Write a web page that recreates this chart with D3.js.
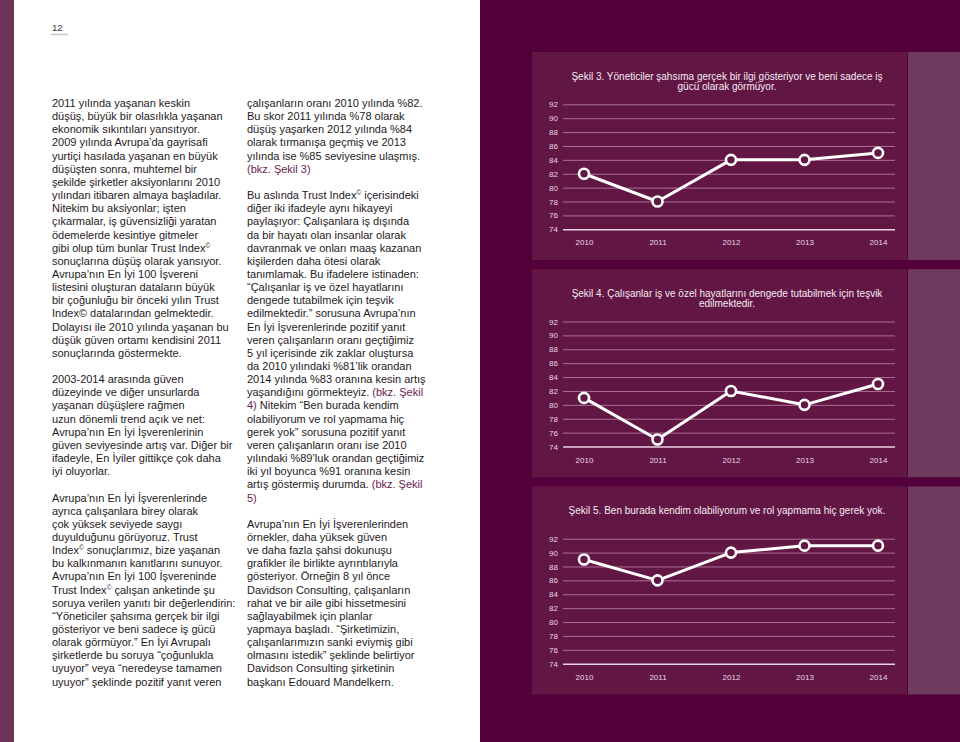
<!DOCTYPE html>
<html><head><meta charset="utf-8">
<script src="https://cdn.jsdelivr.net/npm/d3@7"></script>
<style>body{margin:0;background:#fff}svg{display:block}</style>
</head><body><svg id="c" width="960" height="742"></svg>
<script>
// ---------- DATA ----------
const years = ["2010", "2011", "2012", "2013", "2014"];
const yTicks = [74, 76, 78, 80, 82, 84, 86, 88, 90, 92];
const sekil3 = [82, 78, 84, 84, 85];
const sekil4 = [81, 75, 82, 80, 83];
const sekil5 = [89, 86, 90, 91, 91];
const title3 = ["Şekil 3. Yöneticiler şahsıma gerçek bir ilgi gösteriyor ve beni sadece iş", "gücü olarak görmüyor."];
const title4 = ["Şekil 4. Çalışanlar iş ve özel hayatlarını dengede tutabilmek için teşvik", "edilmektedir."];
const title5 = ["Şekil 5. Ben burada kendim olabiliyorum ve rol yapmama hiç gerek yok."];
const pageNumber = "12";

// ^ = superscript ©, {..} = highlighted reference
const leftColumn = [
  "2011 yılında yaşanan keskin",
  "düşüş, büyük bir olasılıkla yaşanan",
  "ekonomik sıkıntıları yansıtıyor.",
  "2009 yılında Avrupa’da gayrisafi",
  "yurtiçi hasılada yaşanan en büyük",
  "düşüşten sonra, muhtemel bir",
  "şekilde şirketler aksiyonlarını 2010",
  "yılından itibaren almaya başladılar.",
  "Nitekim bu aksiyonlar; işten",
  "çıkarmalar, iş güvensizliği yaratan",
  "ödemelerde kesintiye gitmeler",
  "gibi olup tüm bunlar Trust Index^",
  "sonuçlarına düşüş olarak yansıyor.",
  "Avrupa’nın En İyi 100 İşvereni",
  "listesini oluşturan dataların büyük",
  "bir çoğunluğu bir önceki yılın Trust",
  "Index© datalarından gelmektedir.",
  "Dolayısı ile 2010 yılında yaşanan bu",
  "düşük güven ortamı kendisini 2011",
  "sonuçlarında göstermekte.",
  "",
  "2003-2014 arasında güven",
  "düzeyinde ve diğer unsurlarda",
  "yaşanan düşüşlere rağmen",
  "uzun dönemli trend açık ve net:",
  "Avrupa’nın En İyi İşverenlerinin",
  "güven seviyesinde artış var. Diğer bir",
  "ifadeyle, En İyiler gittikçe çok daha",
  "iyi oluyorlar.",
  "",
  "Avrupa’nın En İyi İşverenlerinde",
  "ayrıca çalışanlara birey olarak",
  "çok yüksek seviyede saygı",
  "duyulduğunu görüyoruz. Trust",
  "Index^ sonuçlarımız, bize yaşanan",
  "bu kalkınmanın kanıtlarını sunuyor.",
  "Avrupa’nın En İyi 100 İşvereninde",
  "Trust Index^ çalışan anketinde şu",
  "soruya verilen yanıtı bir değerlendirin:",
  "“Yöneticiler şahsıma gerçek bir ilgi",
  "gösteriyor ve beni sadece iş gücü",
  "olarak görmüyor.” En İyi Avrupalı",
  "şirketlerde bu soruya “çoğunlukla",
  "uyuyor” veya “neredeyse tamamen",
  "uyuyor” şeklinde pozitif yanıt veren"
];
const middleColumn = [
  "çalışanların oranı 2010 yılında %82.",
  "Bu skor 2011 yılında %78 olarak",
  "düşüş yaşarken 2012 yılında %84",
  "olarak tırmanışa geçmiş ve 2013",
  "yılında ise %85 seviyesine ulaşmış.",
  "{(bkz. Şekil 3)}",
  "",
  "Bu aslında Trust Index^ içerisindeki",
  "diğer iki ifadeyle aynı hikayeyi",
  "paylaşıyor: Çalışanlara iş dışında",
  "da bir hayatı olan insanlar olarak",
  "davranmak ve onları maaş kazanan",
  "kişilerden daha ötesi olarak",
  "tanımlamak. Bu ifadelere istinaden:",
  "“Çalışanlar iş ve özel hayatlarını",
  "dengede tutabilmek için teşvik",
  "edilmektedir.” sorusuna Avrupa’nın",
  "En İyi İşverenlerinde pozitif yanıt",
  "veren çalışanların oranı geçtiğimiz",
  "5 yıl içerisinde zik zaklar oluştursa",
  "da 2010 yılındaki %81’lik orandan",
  "2014 yılında %83 oranına kesin artış",
  "yaşandığını görmekteyiz. {(bkz. Şekil}",
  "{4)} Nitekim “Ben burada kendim",
  "olabiliyorum ve rol yapmama hiç",
  "gerek yok” sorusuna pozitif yanıt",
  "veren çalışanların oranı ise 2010",
  "yılındaki %89’luk orandan geçtiğimiz",
  "iki yıl boyunca %91 oranına kesin",
  "artış göstermiş durumda. {(bkz. Şekil}",
  "{5)}",
  "",
  "Avrupa’nın En İyi İşverenlerinden",
  "örnekler, daha yüksek güven",
  "ve daha fazla şahsi dokunuşu",
  "grafikler ile birlikte ayrıntılarıyla",
  "gösteriyor. Örneğin 8 yıl önce",
  "Davidson Consulting, çalışanların",
  "rahat ve bir aile gibi hissetmesini",
  "sağlayabilmek için planlar",
  "yapmaya başladı. “Şirketimizin,",
  "çalışanlarımızın sanki eviymiş gibi",
  "olmasını istedik” şeklinde belirtiyor",
  "Davidson Consulting şirketinin",
  "başkanı Edouard Mandelkern."
];

// ---------- DRAW ----------
const svg = d3.select("#c");
const FONT = "'Liberation Sans', Arial, Helvetica, sans-serif";
const C = {dark: "#54003a", panel: "#621644", strip: "#6e3a5e", left: "#6d3358",
           text: "#1e1a1c", ref: "#6a1a4e", label: "#ead6e2"};

svg.append("rect").attr("x", 0).attr("y", 0).attr("width", 960).attr("height", 742).attr("fill", "#fff");
svg.append("rect").attr("x", 0).attr("y", 0).attr("width", 14).attr("height", 742).attr("fill", C.left);
svg.append("rect").attr("x", 480).attr("y", 0).attr("width", 480).attr("height", 742).attr("fill", C.dark);

// page number
svg.append("text").attr("x", 52).attr("y", 30.5).attr("font-family", FONT).attr("font-size", 9.5)
  .attr("fill", "#333").text(pageNumber);
svg.append("line").attr("x1", 51).attr("x2", 68).attr("y1", 34.5).attr("y2", 34.5)
  .attr("stroke", "#c8c8c8").attr("stroke-width", 1.5);

// text columns
function drawColumn(lines, x) {
  const lh = 13.15, y0 = 107;
  const g = svg.append("g").attr("font-family", FONT).attr("font-size", 11).attr("fill", C.text);
  lines.forEach((ln, i) => {
    if (!ln) return;
    const yy = y0 + i * lh;
    const t = g.append("text").attr("x", x).attr("y", yy);
    ln.split(/(\^|\{[^}]*\})/).forEach(seg => {
      if (!seg) return;
      if (seg === "^") {
        t.append("tspan").attr("font-size", 6.5).attr("y", yy - 4).text("©");
      } else if (seg.startsWith("{")) {
        t.append("tspan").attr("fill", C.ref).attr("y", yy).text(seg.slice(1, -1));
      } else {
        t.append("tspan").attr("y", yy).text(seg);
      }
    });
  });
}
drawColumn(leftColumn, 52);
drawColumn(middleColumn, 247);

// charts
const charts = [
  {title: title3, values: sekil3},
  {title: title4, values: sekil4},
  {title: title5, values: sekil5}
];
const x = d3.scalePoint().domain(years).range([584, 878]);
const gridL = 563, gridR = 895;

charts.forEach((ch, i) => {
  const top = 52 + i * 217.2;
  const panelH = 208;
  svg.append("rect").attr("x", 532).attr("y", top).attr("width", 375).attr("height", panelH).attr("fill", C.panel);
  svg.append("rect").attr("x", 908).attr("y", top).attr("width", 52).attr("height", panelH).attr("fill", C.strip);

  const g = svg.append("g");
  ch.title.forEach((t, j) => {
    g.append("text").attr("x", 727).attr("y", top + 27.5 + j * 10.5).attr("text-anchor", "middle")
      .attr("font-family", FONT).attr("font-size", 10).attr("fill", "#f5eaf0").text(t);
  });

  const y = d3.scaleLinear().domain([74, 92]).range([top + 177.3, top + 52.3]);

  const ya = g.append("g").attr("transform", `translate(${gridL},0)`)
    .call(d3.axisLeft(y).tickValues(yTicks).tickSize(-(gridR - gridL)).tickPadding(5).tickFormat(d3.format("d")));
  ya.select(".domain").remove();
  ya.selectAll(".tick line")
    .attr("stroke", d => d === 74 ? "#e9d3e0" : "#b27a9d")
    .attr("stroke-width", d => d === 74 ? 1.6 : 0.9);
  ya.selectAll(".tick text").attr("font-family", FONT).attr("font-size", 8).attr("fill", C.label);

  const xa = g.append("g").attr("transform", `translate(0,${top + 177.3})`)
    .call(d3.axisBottom(x).tickSize(0).tickPadding(10.5));
  xa.select(".domain").remove();
  xa.selectAll(".tick text").attr("font-family", FONT).attr("font-size", 8).attr("fill", C.label);

  const pts = years.map((yr, k) => ({year: yr, v: ch.values[k]}));
  g.append("path").datum(pts)
    .attr("d", d3.line().x(d => x(d.year)).y(d => y(d.v)))
    .attr("fill", "none").attr("stroke", "#fff").attr("stroke-width", 3).attr("stroke-linejoin", "round");
  g.selectAll("circle.pt").data(pts).join("circle").attr("class", "pt")
    .attr("cx", d => x(d.year)).attr("cy", d => y(d.v)).attr("r", 5)
    .attr("fill", C.panel).attr("stroke", "#fff").attr("stroke-width", 2.6);
});
</script></body></html>
